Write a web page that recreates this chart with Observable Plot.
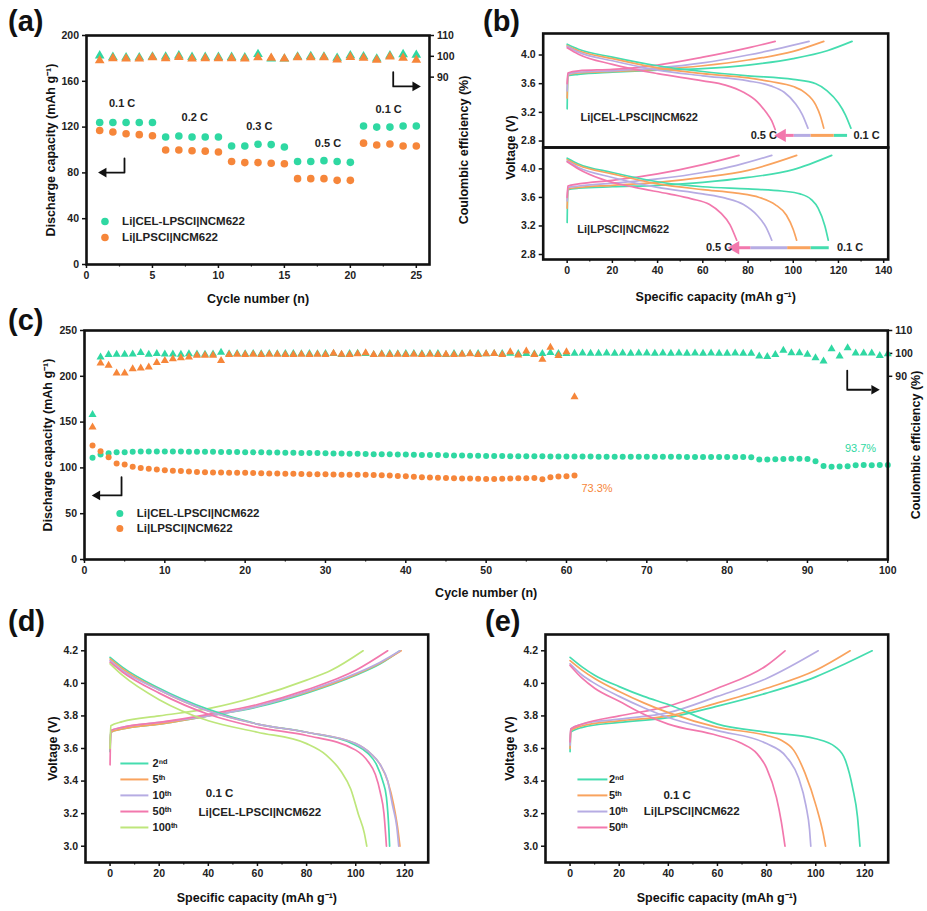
<!DOCTYPE html>
<html><head><meta charset="utf-8">
<script src="https://cdn.jsdelivr.net/npm/d3@7"></script>
<script src="https://cdn.jsdelivr.net/npm/@observablehq/plot@0.6"></script>
<style>
body{margin:0;background:#fff;}
#root{position:relative;width:927px;height:911px;overflow:hidden;font-family:"Liberation Sans",Arial,Helvetica,sans-serif;}
.plabel{position:absolute;font-weight:bold;font-size:29px;line-height:1;color:#111;}
</style></head>
<body><div id="root"></div>
<script>
// ---------- Panel (a) rate capability ----------
const aCycles = [1,2,3,4,5,6,7,8,9,10,11,12,13,14,15,16,17,18,19,20,21,22,23,24,25];
const aCapCEL = [124,124,124,124,124,111.3,112.2,111.3,111.3,111.3,103.5,103.5,105,104.7,102.6,90,90,90.7,90,89.2,121,120,120,121,121];
const aCapLPS = [117,115.7,114.2,113.4,112.5,100,100,99.4,99,98.3,90,89,89,88.4,88,75,75,75,73.5,73.5,106,104.4,105.2,103.5,103.5];
const aCeCEL = [100.3,99.6,99.4,99.4,99.8,99.8,100.3,99.6,99.6,99.6,99.6,99.4,101,98.8,98.8,99.8,100,99.8,99.2,100.4,99.9,98.8,100.3,100.9,100.6];
const aCeLPS = [98,99,98.8,98.8,99.4,99,99.6,98.8,99,99,99,98.8,99.4,99.2,98.8,99.4,99.4,99.4,98.4,99.6,99.2,98.2,99.8,99.2,98.2];
const aXTicks = [0,5,10,15,20,25];
const aXMinor = [2.5,7.5,12.5,17.5,22.5];
const aYTicks = [0,40,80,120,160,200];
const aCeTicks = [90,100,110];
const aRateLabels = ["0.1 C","0.2 C","0.3 C","0.5 C","0.1 C"];
const aRateX = [2.7,8.2,13.1,18.3,22.9];
const aRateY = [140.6,128.4,120.5,105.7,135.4];

// ---------- Panel (c) long cycling ----------
const cCyclesCEL = [1,2,3,4,5,6,7,8,9,10,11,12,13,14,15,16,17,18,19,20,21,22,23,24,25,26,27,28,29,30,31,32,33,34,35,36,37,38,39,40,41,42,43,44,45,46,47,48,49,50,51,52,53,54,55,56,57,58,59,60,61,62,63,64,65,66,67,68,69,70,71,72,73,74,75,76,77,78,79,80,81,82,83,84,85,86,87,88,89,90,91,92,93,94,95,96,97,98,99,100];
const cCapCEL = [111,114.5,116,117,117,117.5,118,118,118,118,
117.8,117.8,117.6,117.6,117.5,117.5,117.4,117.4,117.3,117.2,
117,117,116.8,116.8,116.6,116.5,116.4,116.3,116.2,116,
115.8,115.6,115.5,115.4,115.2,115,115,114.8,114.6,114.5,
114.3,114.2,114,114,113.8,113.6,113.5,113.4,113.2,113,
113,112.9,112.8,112.8,112.7,112.6,112.6,112.5,112.5,112.5,
112.4,112.4,112.4,112.3,112.3,112.3,112.3,112.2,112.2,112.2,
112.2,112.1,112.1,112.1,112,112,112,112,111.9,111.9,
111.8,111.8,111.6,109.2,109.2,109.5,109.8,110,110,109.6,
107.3,102,101.2,101.5,101.8,102.8,103.3,103,103.2,103.3];
const cCeCEL = [73.2,98.4,99.4,99.6,99.6,99.7,100.3,99.6,99.9,99.7,
99.7,99.6,99.8,99.7,99.6,99.7,100.4,99.8,99.9,99.8,
99.9,99.8,99.9,99.8,99.9,99.9,99.8,99.9,99.8,99.9,
99.9,99.4,99.9,100,99.9,99.4,99.8,99.9,99.8,99.9,
99.9,99.8,99.9,99.9,99.4,99.9,99.8,99.9,99.9,99.8,
99.9,99.9,100,99.9,99.9,99.8,99.9,100.3,99.9,99.9,
100,100.1,100,100,100.1,100,100.1,100,100.1,100.1,
100,100.1,100,100.1,100,100.1,100,100.1,100,100,
100.1,100,100,98.8,98.6,99.5,101.3,100.2,100.2,99.6,
98,96.6,102,98.8,102.4,100.1,100.1,100.1,99,99.8];
const cCyclesLPS = [1,2,3,4,5,6,7,8,9,10,11,12,13,14,15,16,17,18,19,20,21,22,23,24,25,26,27,28,29,30,31,32,33,34,35,36,37,38,39,40,41,42,43,44,45,46,47,48,49,50,51,52,53,54,55,56,57,58,59,60,61];
const cCapLPS = [124.5,118.3,111.7,104.8,103.7,101.2,100,99,98.3,97.5,
97,96.5,96,95.5,95.3,95,95,94.8,94.6,94.8,
94.5,94.2,94,93.8,93.6,93.5,93.4,93.2,93,93,
92.8,92.6,92.5,92.4,92.5,92.2,92,91.6,91.2,90.8,
90.4,89.8,89.5,89.2,89,88.8,88.5,88.3,88.2,88,
88,88.2,88.3,88.6,88.8,89,87.5,89.8,90.5,91,91.7];
const cCeLPS = [67.8,95.7,94.7,91.4,91.4,93.2,93.6,94,95.9,96.8,
97.6,98,98.4,99.1,99.1,99.1,96.8,99.5,99.6,99.5,
99.6,99.5,99.6,99.6,99.4,99.5,99.6,99.5,99.6,99.5,
100,99.6,99.5,99.8,100.2,99.4,99.6,99.5,99.6,99.5,
99.6,99.5,99.6,99.5,99.6,99.4,99.6,99.8,99.4,99.8,
99.9,99.5,100.6,99.2,101,99.4,97.4,102.6,99,100.6,81];
const cXTicks = [0,10,20,30,40,50,60,70,80,90,100];
const cXMinor = [5,15,25,35,45,55,65,75,85,95];
const cYTicks = [0,50,100,150,200,250];
const cCeTicks = [90,100,110];

// ---------- Panel (b) charge/discharge at different rates ----------
const bCelCh01 = [[0,3.25],[0.3,3.71],[5,3.73],[20,3.76],[40,3.79],[60,3.81],[80,3.86],[100,3.95],[115,4.06],[126,4.19]];
const bCelCh02 = [[0,3.4],[0.3,3.72],[5,3.75],[20,3.77],[40,3.80],[60,3.85],[80,3.93],[100,4.05],[113.5,4.19]];
const bCelCh03 = [[0,3.5],[0.3,3.73],[5,3.76],[20,3.78],[40,3.82],[60,3.89],[80,4.0],[95,4.1],[107,4.19]];
const bCelCh05 = [[0,3.6],[0.3,3.75],[5,3.78],[20,3.80],[40,3.86],[60,3.97],[80,4.10],[92,4.19]];
const bCelDc01 = [[0,4.15],[5,4.08],[20,3.97],[40,3.85],[60,3.77],[80,3.71],[100,3.66],[110,3.60],[115,3.50],[120,3.33],[123,3.17],[125.5,2.98]];
const bCelDc02 = [[0,4.13],[5,4.06],[20,3.95],[40,3.82],[60,3.74],[80,3.68],[90,3.63],[100,3.56],[105,3.48],[110,3.30],[112,3.15],[113.5,2.98]];
const bCelDc03 = [[0,4.12],[5,4.04],[20,3.92],[40,3.79],[60,3.71],[80,3.64],[90,3.57],[96,3.48],[101,3.32],[104,3.17],[106.5,2.98]];
const bCelDc05 = [[0,4.10],[5,4.01],[20,3.87],[40,3.74],[60,3.64],[70,3.58],[78,3.48],[84,3.35],[88,3.20],[90.5,3.08],[92,2.96]];
const bLpsCh01 = [[0,3.25],[0.3,3.71],[5,3.73],[20,3.75],[40,3.77],[60,3.81],[80,3.88],[100,3.99],[117,4.19]];
const bLpsCh02 = [[0,3.45],[0.3,3.72],[5,3.74],[20,3.77],[40,3.81],[60,3.88],[80,3.98],[101.5,4.19]];
const bLpsCh03 = [[0,3.55],[0.3,3.74],[5,3.76],[20,3.80],[40,3.86],[60,3.95],[75,4.05],[90.5,4.19]];
const bLpsCh05 = [[0,3.6],[0.3,3.76],[5,3.79],[20,3.84],[40,3.93],[60,4.06],[76,4.19]];
const bLpsDc01 = [[0,4.15],[5,4.07],[20,3.95],[40,3.82],[60,3.75],[80,3.72],[95,3.69],[103,3.65],[108,3.57],[111,3.45],[114,3.2],[115.5,3.0]];
const bLpsDc02 = [[0,4.13],[5,4.05],[20,3.93],[40,3.79],[60,3.71],[75,3.66],[85,3.60],[92,3.50],[97,3.35],[100,3.15],[101.5,3.0]];
const bLpsDc03 = [[0,4.11],[5,4.02],[20,3.88],[40,3.74],[60,3.65],[70,3.59],[78,3.50],[84,3.35],[88,3.18],[90.5,3.0]];
const bLpsDc05 = [[0,4.10],[5,4.0],[15,3.86],[30,3.74],[45,3.65],[55,3.58],[63,3.50],[68,3.38],[72,3.22],[75,3.0]];
const bXTicks = [0,20,40,60,80,100,120,140];
const bXMinor = [10,30,50,70,90,110,130];
const bYTicks = [2.8,3.2,3.6,4.0];
const bTopArrowX = [123.8,117.9,107.6,100.2,96.5];
const bTopArrowV = 2.879;
const bBotArrowX = [115.7,107.6,97.3,81,76];
const bBotArrowV = 2.895;

// ---------- Panel (d) CEL cycles at 0.1 C ----------
const dCh2 = [[0,3.58],[0.3,3.70],[5,3.72],[20,3.75],[40,3.80],[60,3.855],[80,3.94],[100,4.05],[110,4.12],[118,4.2]];
const dCh5 = [[0,3.6],[0.3,3.70],[5,3.72],[20,3.75],[40,3.80],[60,3.86],[80,3.945],[100,4.055],[110,4.125],[118.5,4.2]];
const dCh10 = [[0,3.62],[0.3,3.71],[5,3.73],[20,3.76],[40,3.80],[60,3.86],[80,3.95],[100,4.06],[110,4.13],[118,4.2]];
const dCh50 = [[0,3.5],[0.3,3.71],[5,3.73],[20,3.76],[40,3.81],[60,3.87],[80,3.96],[100,4.08],[113,4.2]];
const dCh100 = [[0,3.6],[0.3,3.74],[5,3.765],[20,3.80],[40,3.845],[60,3.92],[80,4.02],[90,4.08],[103,4.2]];
const dDc2 = [[0,4.16],[5,4.10],[20,3.97],[40,3.84],[60,3.75],[80,3.70],[100,3.62],[105,3.57],[108.5,3.50],[111,3.40],[112.5,3.30],[113.5,3.1],[113.8,3.0]];
const dDc5 = [[0,4.15],[5,4.09],[20,3.96],[40,3.83],[60,3.75],[80,3.70],[100,3.63],[106,3.57],[110,3.50],[113,3.40],[115.5,3.25],[117,3.12],[118,3.0]];
const dDc10 = [[0,4.14],[5,4.08],[20,3.96],[40,3.83],[60,3.75],[80,3.70],[100,3.63],[106,3.57],[110,3.50],[113,3.40],[115,3.25],[116.7,3.12],[117.5,3.0]];
const dDc50 = [[0,4.13],[5,4.07],[20,3.94],[40,3.81],[60,3.73],[80,3.68],[100,3.59],[105,3.52],[108,3.44],[110,3.33],[111.5,3.2],[112.5,3.0]];
const dDc100 = [[0,4.12],[5,4.05],[20,3.90],[40,3.77],[60,3.70],[80,3.63],[88,3.56],[94,3.46],[98,3.35],[101,3.2],[103.5,3.08],[104.5,3.0]];
const dLegendLabels = ["2\u207F\u1D48","5\u1D57\u02B0","10\u1D57\u02B0","50\u1D57\u02B0","100\u1D57\u02B0"];
const dLegendV = [3.508,3.41,3.312,3.213,3.115];

// ---------- Panel (e) LPSCl cycles at 0.1 C ----------
const eCh2 = [[0,3.58],[0.3,3.70],[5,3.73],[20,3.76],[40,3.79],[60,3.86],[80,3.94],[100,4.04],[112,4.12],[123,4.2]];
const eCh5 = [[0,3.6],[0.3,3.71],[5,3.74],[20,3.77],[40,3.80],[60,3.88],[80,3.97],[100,4.08],[114,4.2]];
const eCh10 = [[0,3.62],[0.3,3.72],[5,3.75],[20,3.78],[40,3.82],[60,3.92],[80,4.03],[101,4.2]];
const eCh50 = [[0,3.64],[0.3,3.72],[5,3.75],[20,3.80],[40,3.86],[60,3.97],[80,4.11],[87.5,4.2]];
const eDc2 = [[0,4.16],[5,4.10],[10,4.05],[20,3.98],[30,3.92],[40,3.87],[60,3.75],[80,3.70],[100,3.66],[108,3.61],[112,3.53],[115,3.36],[117,3.18],[118,3.0]];
const eDc5 = [[0,4.14],[5,4.08],[10,4.03],[20,3.95],[30,3.88],[40,3.82],[60,3.73],[80,3.68],[86,3.65],[91,3.59],[95.6,3.45],[100.3,3.24],[103,3.08],[104,3.0]];
const eDc10 = [[0,4.12],[5,4.05],[10,4.0],[20,3.92],[30,3.85],[40,3.79],[60,3.71],[80,3.63],[88,3.55],[93,3.42],[96,3.25],[97.5,3.1],[98,3.0]];
const eDc50 = [[0,4.11],[5,4.03],[10,3.97],[20,3.89],[30,3.81],[40,3.75],[60,3.68],[70,3.63],[76,3.57],[80,3.48],[84,3.3],[86,3.15],[87.5,3.0]];
const eLegendLabels = ["2\u207F\u1D48","5\u1D57\u02B0","10\u1D57\u02B0","50\u1D57\u02B0"];
const eLegendV = [3.41,3.312,3.213,3.115];
const deXTicks = [0,20,40,60,80,100,120];
const deXMinor = [10,30,50,70,90,110];
const deYTicks = [3.0,3.2,3.4,3.6,3.8,4.0,4.2];

// ---------- styling ----------
const FONT = '"Liberation Sans", Arial, Helvetica, sans-serif';
const GREEN = "#2FD8A2", ORANGE = "#F6863A";
const LG = "#45DDAF", LO = "#F9A35E", LL = "#B6ACE3", LP = "#F278AD", LY = "#BEE67B";
const root = document.getElementById("root");

function place(opts, left, top) {
  const svg = Plot.plot({
    ...opts,
    style: {background: "transparent", overflow: "visible", fontFamily: FONT, fontWeight: "bold", fontSize: "10.5px", color: "#111"}
  });
  svg.style.position = "absolute";
  svg.style.left = left + "px";
  svg.style.top = top + "px";
  svg.style.maxWidth = "none";
  root.appendChild(svg);
}
const tk = {tickSize: 4, tickPadding: 3.5, label: null, strokeWidth: 1.5, fontSize: 10.5, fill: "#222"};
const minor = ticks => Plot.axisX({ticks, tickSize: 2.5, tickFormat: () => "", label: null, strokeWidth: 1.2});
const lab = (t, o) => Plot.text([t], {text: d => d, fontSize: 12.5, fontWeight: "bold", fill: "#111", textAnchor: "middle", lineAnchor: "middle", ...o});
const line = (pts, color) => Plot.line(pts, {x: d => d[0], y: d => d[1], stroke: color, strokeWidth: 1.7, curve: "monotone-x"});
const frame = () => Plot.frame({stroke: "#111", strokeWidth: 2.6});
function lArrow(pts, head, rot) {
  return [
    Plot.line(pts, {x: d => d[0], y: d => d[1], stroke: "#111", strokeWidth: 1.8}),
    Plot.dot([head], {x: d => d[0], y: d => d[1], symbol: "triangle", rotate: rot, fill: "#111", r: 3.6})
  ];
}

// ---------- (a) ----------
const aRows = aCycles.map((c, i) => ({c, cel: aCapCEL[i], lps: aCapLPS[i], ceCel: aCeCEL[i] * 200 / 110, ceLps: aCeLPS[i] * 200 / 110}));
place({
  width: 470, height: 305, marginLeft: 86, marginRight: 41, marginTop: 35, marginBottom: 41,
  x: {domain: [0, 26]}, y: {domain: [0, 200]},
  marks: [
    Plot.axisX({...tk, ticks: aXTicks}),
    minor(aXMinor),
    Plot.axisY({...tk, ticks: aYTicks}),
    Plot.axisY({...tk, anchor: "right", ticks: aCeTicks.map(v => v * 200 / 110), tickFormat: d => Math.round(d * 110 / 200)}),
    Plot.dot(aRows, {x: "c", y: "ceCel", symbol: "triangle", fill: GREEN, r: 3.6}),
    Plot.dot(aRows, {x: "c", y: "ceLps", symbol: "triangle", fill: ORANGE, r: 3.6}),
    Plot.dot(aRows, {x: "c", y: "cel", fill: GREEN, r: 3.8}),
    Plot.dot(aRows, {x: "c", y: "lps", fill: ORANGE, r: 3.8}),
    Plot.text(aRateLabels, {x: (d, i) => aRateX[i], y: (d, i) => aRateY[i], text: d => d, fontSize: 11, fill: "#222"}),
    Plot.dot([[1.4, 37.6]], {x: d => d[0], y: d => d[1], fill: GREEN, r: 3.8}),
    Plot.dot([[1.4, 23.6]], {x: d => d[0], y: d => d[1], fill: ORANGE, r: 3.8}),
    Plot.text(["Li|CEL-LPSCl|NCM622"], {x: 2.7, y: 37.6, text: d => d, textAnchor: "start", fontSize: 11.5, fill: "#222"}),
    Plot.text(["Li|LPSCl|NCM622"], {x: 2.7, y: 23.6, text: d => d, textAnchor: "start", fontSize: 11.5, fill: "#222"}),
    ...lArrow([[2.88, 92.6], [2.88, 80.3], [1.5, 80.3]], [1.3, 80.3], -90),
    ...lArrow([[23.25, 167.9], [23.25, 155.5], [24.7, 155.5]], [24.92, 155.5], 90),
    lab("Cycle number (n)", {frameAnchor: "bottom", dy: 34}),
    lab("Discharge capacity (mAh g\u207B\u00B9)", {frameAnchor: "left", dx: -36, rotate: -90}),
    lab("Coulombic efficiency (%)", {frameAnchor: "right", dx: 34, rotate: -90}),
    frame()
  ]
}, 0, 0);

// ---------- (b) top ----------
place({
  width: 457, height: 147, marginLeft: 72.7, marginRight: 39.3, marginTop: 33, marginBottom: 0,
  x: {domain: [-10.6, 142], axis: null}, y: {domain: [2.71, 4.3]},
  marks: [
    Plot.axisY({...tk, ticks: bYTicks, tickFormat: d3.format(".1f")}),
    line(bCelCh01, LG), line(bCelCh02, LO), line(bCelCh03, LL), line(bCelCh05, LP),
    line(bCelDc01, LG), line(bCelDc02, LO), line(bCelDc03, LL), line(bCelDc05, LP),
    ...[LG, LO, LL, LP].map((c, i) => Plot.link([0], {x1: bTopArrowX[i], x2: bTopArrowX[i + 1], y1: bTopArrowV, y2: bTopArrowV, stroke: c, strokeWidth: 3})),
    Plot.dot([[95, bTopArrowV]], {x: d => d[0], y: d => d[1], symbol: "triangle", rotate: -90, fill: LP, r: 5}),
    Plot.text(["0.1 C"], {x: 126.6, y: bTopArrowV, text: d => d, textAnchor: "start", fontSize: 11, fill: "#222"}),
    Plot.text(["0.5 C"], {x: 92.8, y: bTopArrowV, text: d => d, textAnchor: "end", fontSize: 11, fill: "#222"}),
    Plot.text(["Li|CEL-LPSCl|NCM622"], {x: 5.9, y: 3.13, text: d => d, textAnchor: "start", fontSize: 11, fill: "#222"}),
    frame()
  ]
}, 470, 0);

// ---------- (b) bottom ----------
place({
  width: 457, height: 305, marginLeft: 72.7, marginRight: 39.3, marginTop: 147, marginBottom: 46,
  x: {domain: [-10.6, 142]}, y: {domain: [2.73, 4.3]},
  marks: [
    Plot.axisX({...tk, ticks: bXTicks}),
    minor(bXMinor),
    Plot.axisY({...tk, ticks: bYTicks, tickFormat: d3.format(".1f")}),
    line(bLpsCh01, LG), line(bLpsCh02, LO), line(bLpsCh03, LL), line(bLpsCh05, LP),
    line(bLpsDc01, LG), line(bLpsDc02, LO), line(bLpsDc03, LL), line(bLpsDc05, LP),
    ...[LG, LO, LL, LP].map((c, i) => Plot.link([0], {x1: bBotArrowX[i], x2: bBotArrowX[i + 1], y1: bBotArrowV, y2: bBotArrowV, stroke: c, strokeWidth: 3})),
    Plot.dot([[74.4, bBotArrowV]], {x: d => d[0], y: d => d[1], symbol: "triangle", rotate: -90, fill: LP, r: 5}),
    Plot.text(["0.1 C"], {x: 119.3, y: bBotArrowV, text: d => d, textAnchor: "start", fontSize: 11, fill: "#222"}),
    Plot.text(["0.5 C"], {x: 73, y: bBotArrowV, text: d => d, textAnchor: "end", fontSize: 11, fill: "#222"}),
    Plot.text(["Li|LPSCl|NCM622"], {x: 4.5, y: 3.15, text: d => d, textAnchor: "start", fontSize: 11, fill: "#222"}),
    lab("Specific capacity (mAh g\u207B\u00B9)", {frameAnchor: "bottom", dy: 37}),
    lab("Voltage (V)", {frameAnchor: "top-left", dx: -32.7, rotate: -90}),
    frame()
  ]
}, 470, 0);

// ---------- (c) ----------
const toC = v => (v - 10) * 2.5;
const cRowsCEL = cCyclesCEL.map((c, i) => ({c, cap: cCapCEL[i], ce: toC(cCeCEL[i])}));
const cRowsLPS = cCyclesLPS.map((c, i) => ({c, cap: cCapLPS[i], ce: toC(cCeLPS[i])}));
place({
  width: 927, height: 300, marginLeft: 84, marginRight: 39.7, marginTop: 25, marginBottom: 46,
  x: {domain: [0, 100]}, y: {domain: [0, 250]},
  marks: [
    Plot.axisX({...tk, ticks: cXTicks}),
    minor(cXMinor),
    Plot.axisY({...tk, ticks: cYTicks}),
    Plot.axisY({...tk, anchor: "right", ticks: cCeTicks.map(toC), tickFormat: d => Math.round(d / 2.5 + 10)}),
    Plot.dot(cRowsCEL, {x: "c", y: "ce", symbol: "triangle", fill: GREEN, r: 3}),
    Plot.dot(cRowsLPS, {x: "c", y: "ce", symbol: "triangle", fill: ORANGE, r: 3}),
    Plot.dot(cRowsCEL, {x: "c", y: "cap", fill: GREEN, r: 3}),
    Plot.dot(cRowsLPS, {x: "c", y: "cap", fill: ORANGE, r: 3}),
    Plot.text(["93.7%"], {x: 96.6, y: 121, text: d => d, fill: GREEN, fontSize: 11, fontWeight: "normal"}),
    Plot.text(["73.3%"], {x: 63.8, y: 77.5, text: d => d, fill: ORANGE, fontSize: 11, fontWeight: "normal"}),
    Plot.dot([[4.4, 50.2]], {x: d => d[0], y: d => d[1], fill: GREEN, r: 3.5}),
    Plot.dot([[4.4, 33.8]], {x: d => d[0], y: d => d[1], fill: ORANGE, r: 3.5}),
    Plot.text(["Li|CEL-LPSCl|NCM622"], {x: 6.5, y: 50.2, text: d => d, textAnchor: "start", fontSize: 11.5, fill: "#222"}),
    Plot.text(["Li|LPSCl|NCM622"], {x: 6.5, y: 33.8, text: d => d, textAnchor: "start", fontSize: 11.5, fill: "#222"}),
    ...lArrow([[4.61, 89.8], [4.61, 69.9], [2.0, 69.9]], [1.6, 69.9], -90),
    ...lArrow([[94.95, 206.3], [94.95, 185.3], [97.85, 185.3]], [98.3, 185.3], 90),
    lab("Cycle number (n)", {frameAnchor: "bottom", dy: 33}),
    lab("Discharge capacity (mAh g\u207B\u00B9)", {frameAnchor: "left", dx: -37, rotate: -90}),
    lab("Coulombic efficiency (%)", {frameAnchor: "right", dx: 27.7, rotate: -90}),
    frame()
  ]
}, 0, 305);

// ---------- (d) ----------
const dColors = [LG, LO, LL, LP, LY];
place({
  width: 470, height: 306, marginLeft: 85, marginRight: 42.3, marginTop: 29, marginBottom: 49,
  x: {domain: [-10, 129.5]}, y: {domain: [2.9, 4.3]},
  marks: [
    Plot.axisX({...tk, ticks: deXTicks}),
    minor(deXMinor),
    Plot.axisY({...tk, ticks: deYTicks, tickFormat: d3.format(".1f")}),
    line(dCh2, LG), line(dCh5, LO), line(dCh10, LL), line(dCh50, LP), line(dCh100, LY),
    line(dDc2, LG), line(dDc5, LO), line(dDc10, LL), line(dDc50, LP), line(dDc100, LY),
    ...dColors.map((c, i) => Plot.link([0], {x1: 4.2, x2: 15.6, y1: dLegendV[i], y2: dLegendV[i], stroke: c, strokeWidth: 2})),
    Plot.text(dLegendLabels, {x: 17.3, y: (d, i) => dLegendV[i], text: d => d, textAnchor: "start", fontSize: 11, fill: "#222"}),
    Plot.text(["0.1 C"], {x: 39, y: 3.324, text: d => d, textAnchor: "start", fontSize: 11.5, fill: "#222"}),
    Plot.text(["Li|CEL-LPSCl|NCM622"], {x: 36, y: 3.207, text: d => d, textAnchor: "start", fontSize: 11.5, fill: "#222"}),
    lab("Specific capacity (mAh g\u207B\u00B9)", {frameAnchor: "bottom", dy: 35}),
    lab("Voltage (V)", {frameAnchor: "left", dx: -33, rotate: -90}),
    frame()
  ]
}, 0, 605);

// ---------- (e) ----------
const eColors = [LG, LO, LL, LP];
place({
  width: 467, height: 306, marginLeft: 85, marginRight: 39.3, marginTop: 29, marginBottom: 49,
  x: {domain: [-10, 129.5]}, y: {domain: [2.9, 4.3]},
  marks: [
    Plot.axisX({...tk, ticks: deXTicks}),
    minor(deXMinor),
    Plot.axisY({...tk, ticks: deYTicks, tickFormat: d3.format(".1f")}),
    line(eCh2, LG), line(eCh5, LO), line(eCh10, LL), line(eCh50, LP),
    line(eDc2, LG), line(eDc5, LO), line(eDc10, LL), line(eDc50, LP),
    ...eColors.map((c, i) => Plot.link([0], {x1: 3, x2: 15.2, y1: eLegendV[i], y2: eLegendV[i], stroke: c, strokeWidth: 2})),
    Plot.text(eLegendLabels, {x: 15.8, y: (d, i) => eLegendV[i], text: d => d, textAnchor: "start", fontSize: 11, fill: "#222"}),
    Plot.text(["0.1 C"], {x: 38, y: 3.312, text: d => d, textAnchor: "start", fontSize: 11.5, fill: "#222"}),
    Plot.text(["Li|LPSCl|NCM622"], {x: 30, y: 3.213, text: d => d, textAnchor: "start", fontSize: 11.5, fill: "#222"}),
    lab("Specific capacity (mAh g\u207B\u00B9)", {frameAnchor: "bottom", dy: 35}),
    lab("Voltage (V)", {frameAnchor: "left", dx: -36, rotate: -90}),
    frame()
  ]
}, 460, 605);

// ---------- panel letters ----------
[["(a)", 8, 7], ["(b)", 483, 7], ["(c)", 8, 306], ["(d)", 8, 607], ["(e)", 485, 607]].forEach(([t, l, tp]) => {
  const d = document.createElement("div");
  d.className = "plabel"; d.textContent = t; d.style.left = l + "px"; d.style.top = tp + "px";
  root.appendChild(d);
});
</script></body></html>
